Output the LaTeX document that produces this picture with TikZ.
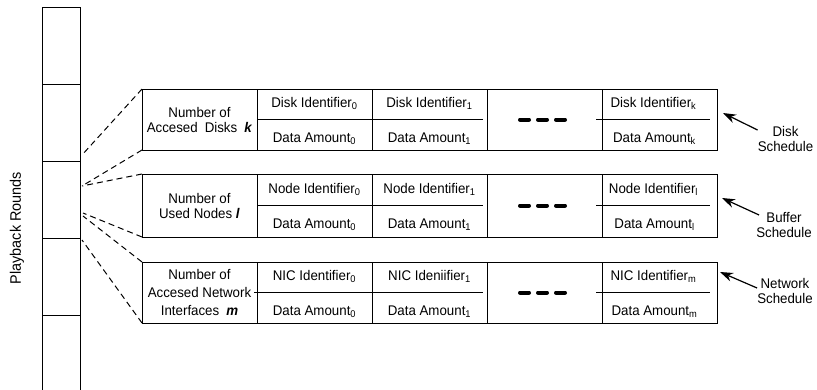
\documentclass[tikz,border=0pt]{standalone}
\usepackage{fontspec}
\setmainfont{Liberation Sans}[FakeStretch=0.95]
\usepackage{tikz}
\usetikzlibrary{positioning, arrows.meta}
\tikzstyle{round}    = [rectangle, draw=black, line width=1pt, minimum width=38pt, minimum height=77pt, inner sep=0pt, outer sep=0pt]
\tikzstyle{cell}     = [rectangle, draw=black, line width=1pt, minimum width=115pt, minimum height=61pt, inner sep=0pt, outer sep=0pt]
\tikzstyle{numcell}  = [cell, align=center, font={\fontsize{14}{15}\selectfont}]
\tikzstyle{entry}    = [inner sep=0pt, anchor=base, font={\fontsize{14}{15}\selectfont}]
\tikzstyle{sched}    = [inner sep=0pt, align=center, font={\fontsize{14}{15}\selectfont}]
\tikzstyle{midline}  = [line width=1pt]
\tikzstyle{dots}     = [line width=4pt, line cap=round, dash pattern=on 9pt off 9pt]
\tikzstyle{zoomline} = [line width=1pt, dash pattern=on 6pt off 4pt]
\tikzstyle{arrow}    = [line width=1.2pt, -{Stealth[length=13pt,width=9pt]}]

\begin{document}
\begin{tikzpicture}[x=1pt, y=-1pt]
      \useasboundingbox (0,0) rectangle (817,389);

      \node (r1) [round] at (61,45.5) {};
      \node (r2) [round, below=0pt of r1] {};
      \node (r3) [round, below=0pt of r2] {};
      \node (r4) [round, below=0pt of r3] {};
      \node (r5) [round, below=0pt of r4] {};
      \node (rounds) [rotate=90, font={\fontsize{15.2}{17}\selectfont}] at (17,228) {Playback Rounds};

      \node (n1)  [numcell] at (199.5,119.5) {Number of\\Accesed\enspace Disks\enspace\textbf{\textit{k}}};
      \node (d10) [cell, right=0pt of n1]  {};
      \node (d11) [cell, right=0pt of d10] {};
      \node (d1x) [cell, right=0pt of d11] {};
      \node (d1k) [cell, right=0pt of d1x] {};

      \node (n2)  [numcell, minimum height=63pt] at (199.5,205.5) {Number of\\Used Nodes \textbf{\textit{l}}};
      \node (d20) [cell, minimum height=63pt, right=0pt of n2]  {};
      \node (d21) [cell, minimum height=63pt, right=0pt of d20] {};
      \node (d2x) [cell, minimum height=63pt, right=0pt of d21] {};
      \node (d2l) [cell, minimum height=63pt, right=0pt of d2x] {};

      \node (n3)  [numcell, font={\fontsize{14}{18}\selectfont}] at (199.5,292.5) {Number of\\Accesed Network\\Interfaces\enspace\textbf{\textit{m}}};
      \node (d30) [cell, right=0pt of n3]  {};
      \node (d31) [cell, right=0pt of d30] {};
      \node (d3x) [cell, right=0pt of d31] {};
      \node (d3m) [cell, right=0pt of d3x] {};

      \node (d10a) [entry] at ([yshift=12.3pt]d10.center) {Disk Identifier\textsubscript{0}};
      \node (d10b) [entry] at ([yshift=-23.2pt]d10.center) {Data Amount\textsubscript{0}};
      \node (d11a) [entry] at ([yshift=12.3pt]d11.center) {Disk Identifier\textsubscript{1}};
      \node (d11b) [entry] at ([yshift=-23.2pt]d11.center) {Data Amount\textsubscript{1}};
      \node (d1ka) [entry] at ([xshift=-6pt, yshift=12.3pt]d1k.center) {Disk Identifier\textsubscript{k}};
      \node (d1kb) [entry] at ([xshift=-5pt, yshift=-23.2pt]d1k.center) {Data Amount\textsubscript{k}};

      \node (d20a) [entry] at ([yshift=12.3pt]d20.center) {Node Identifier\textsubscript{0}};
      \node (d20b) [entry] at ([yshift=-23.2pt]d20.center) {Data Amount\textsubscript{0}};
      \node (d21a) [entry] at ([yshift=12.3pt]d21.center) {Node Identifier\textsubscript{1}};
      \node (d21b) [entry] at ([yshift=-23.2pt]d21.center) {Data Amount\textsubscript{1}};
      \node (d2la) [entry] at ([xshift=-6pt, yshift=12.3pt]d2l.center) {Node Identifier\textsubscript{l}};
      \node (d2lb) [entry] at ([xshift=-5pt, yshift=-23.2pt]d2l.center) {Data Amount\textsubscript{l}};

      \node (d30a) [entry] at ([yshift=12.3pt]d30.center) {NIC Identifier\textsubscript{0}};
      \node (d30b) [entry] at ([yshift=-23.2pt]d30.center) {Data Amount\textsubscript{0}};
      \node (d31a) [entry] at ([yshift=12.3pt]d31.center) {NIC Ideniifier\textsubscript{1}};
      \node (d31b) [entry] at ([yshift=-23.2pt]d31.center) {Data Amount\textsubscript{1}};
      \node (d3ma) [entry] at ([xshift=-6pt, yshift=12.3pt]d3m.center) {NIC Identifier\textsubscript{m}};
      \node (d3mb) [entry] at ([xshift=-5pt, yshift=-23.2pt]d3m.center) {Data Amount\textsubscript{m}};

      \draw [midline] (d10.west) -- ([xshift=-4pt]d11.east);
      \draw [midline] ([xshift=-6pt]d1k.west) -- ([xshift=-7pt]d1k.east);
      \draw [midline] (d20.west) -- ([xshift=-4pt]d21.east);
      \draw [midline] ([xshift=-6pt]d2l.west) -- ([xshift=-7pt]d2l.east);
      \draw [midline] ([xshift=-3pt]d30.west) -- ([xshift=-4pt]d31.east);
      \draw [midline] ([xshift=-6pt]d3m.west) -- ([xshift=-7pt]d3m.east);

      \draw [dots] ([xshift=-24.5pt]d1x.center) -- ([xshift=20.5pt]d1x.center);
      \draw [dots] ([xshift=-24.5pt]d2x.center) -- ([xshift=20.5pt]d2x.center);
      \draw [dots] ([xshift=-24.5pt]d3x.center) -- ([xshift=20.5pt]d3x.center);

      \coordinate (z1) at ([xshift=2pt, yshift=44.5pt]r3.east);
      \coordinate (z2) at ([xshift=2pt, yshift=13.5pt]r3.east);
      \coordinate (z3) at ([xshift=3pt, yshift=-13.5pt]r3.east);
      \coordinate (z4) at ([xshift=3pt, yshift=-16.5pt]r3.east);
      \coordinate (z5) at ([xshift=2pt, yshift=-40.5pt]r3.east);

      \draw [zoomline] (n1.north west) -- (z1);
      \draw [zoomline] (n1.south west) -- (z2);
      \draw [zoomline] (n2.north west) -- (z2);
      \draw [zoomline] (n2.south west) -- (z3);
      \draw [zoomline] (n3.north west) -- (z4);
      \draw [zoomline] (n3.south west) -- (z5);

      \node (dsched) [sched] at (785.5,138.5) {Disk\\Schedule};
      \node (bsched) [sched] at (784,225) {Buffer\\Schedule};
      \node (nsched) [sched] at (785,290.5) {Network\\Schedule};

      \coordinate (dtip) at (723,113);
      \coordinate (btip) at (722,198);
      \coordinate (ntip) at (720,272);

      \draw [arrow] ([yshift=8.5pt]dsched.west) -- (dtip);
      \draw [arrow] ([xshift=3pt, yshift=10pt]bsched.west) -- (btip);
      \draw [arrow] ([yshift=2.5pt]nsched.west) -- (ntip);
\end{tikzpicture}
\end{document}
